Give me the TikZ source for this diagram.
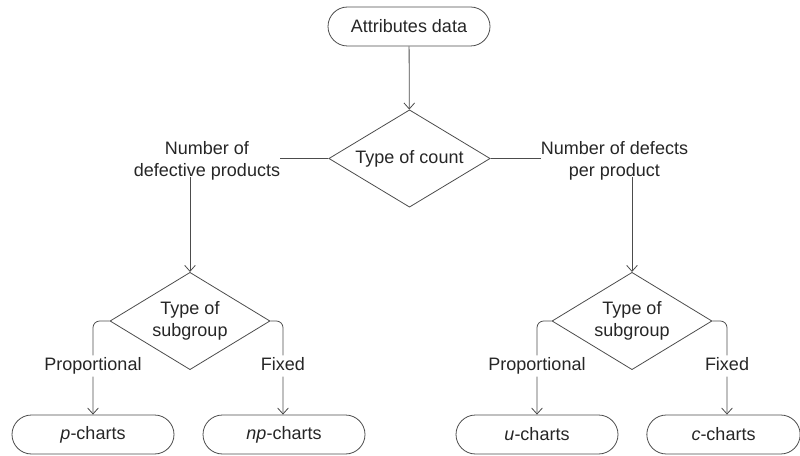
\documentclass[tikz,border=0pt]{standalone}
\usepackage{fontspec}
\setmainfont{Liberation Sans}
\usetikzlibrary{shapes.geometric,shapes.misc,arrows.meta}
\begin{document}
\begin{tikzpicture}[x=0.75pt,y=-0.75pt,
  every node/.style={font=\fontsize{13.5pt}{16.5pt}\selectfont, text=black!85},
  term/.style={rounded rectangle, draw=black!70, line width=0.6pt, minimum width=121.5pt, minimum height=29.25pt, inner sep=0pt},
  decide/.style={diamond, draw=black!70, line width=0.6pt, aspect=1.65, minimum width=120pt, minimum height=73pt, inner sep=0pt, align=center},
  lab/.style={align=center, inner sep=0pt},
  conn/.style={draw=black!70, line width=0.6pt},
  arr/.style={conn, -{Straight Barb[length=4.5pt,width=8pt]}},
  blab/.style={fill=white, inner sep=1.5pt, text height=10pt, text depth=3pt}
]
\useasboundingbox (0,0) rectangle (800,456);

\node[term] (attr) at (409,26.5) {Attributes data};
\node[decide, minimum width=121pt, minimum height=73pt] (count) at (409.5,158.5) {Type of count};
\node[lab] (lab1) at (207,161) {Number of\\defective products};
\node[lab] (lab2) at (614.5,161) {Number of defects\\per product};
\node[decide] (sub1) at (190,321) {Type of\\subgroup};
\node[decide] (sub2) at (632,321) {Type of\\subgroup};
\node[term] (p) at (93,434.5) {\textit{p}-charts};
\node[term] (np) at (284,434.5) {\textit{np}-charts};
\node[term] (u) at (537,434.5) {\textit{u}-charts};
\node[term, minimum width=115pt] (c) at (723.5,434.5) {\textit{c}-charts};

\draw[arr] (attr) -- (count);
\draw[conn] (count.west) -- (count.west -| lab1.east);
\draw[conn] (count.east) -- (count.east -| lab2.west);
\draw[arr] (lab1.south -| sub1.north) ++(0,-4) -- (sub1.north);
\draw[arr] (lab2.south -| sub2.north) ++(0,-4) -- (sub2.north);

\coordinate (c1) at (93,321);
\coordinate (c2) at (283,321);
\coordinate (c3) at (537,321);
\coordinate (c4) at (727,321);

\draw[arr, rounded corners=5pt] (sub1.west) -- (c1) -- node[blab, pos=0.48] (l1) {Proportional} (c1 |- p.north);
\draw[arr, rounded corners=5pt] (sub1.east) -- (c2) -- node[blab, pos=0.48] (l2) {Fixed} (c2 |- np.north);
\draw[arr, rounded corners=5pt] (sub2.west) -- (c3) -- node[blab, pos=0.48] (l3) {Proportional} (c3 |- u.north);
\draw[arr, rounded corners=5pt] (sub2.east) -- (c4) -- node[blab, pos=0.48] (l4) {Fixed} (c4 |- c.north);
\end{tikzpicture}
\end{document}
